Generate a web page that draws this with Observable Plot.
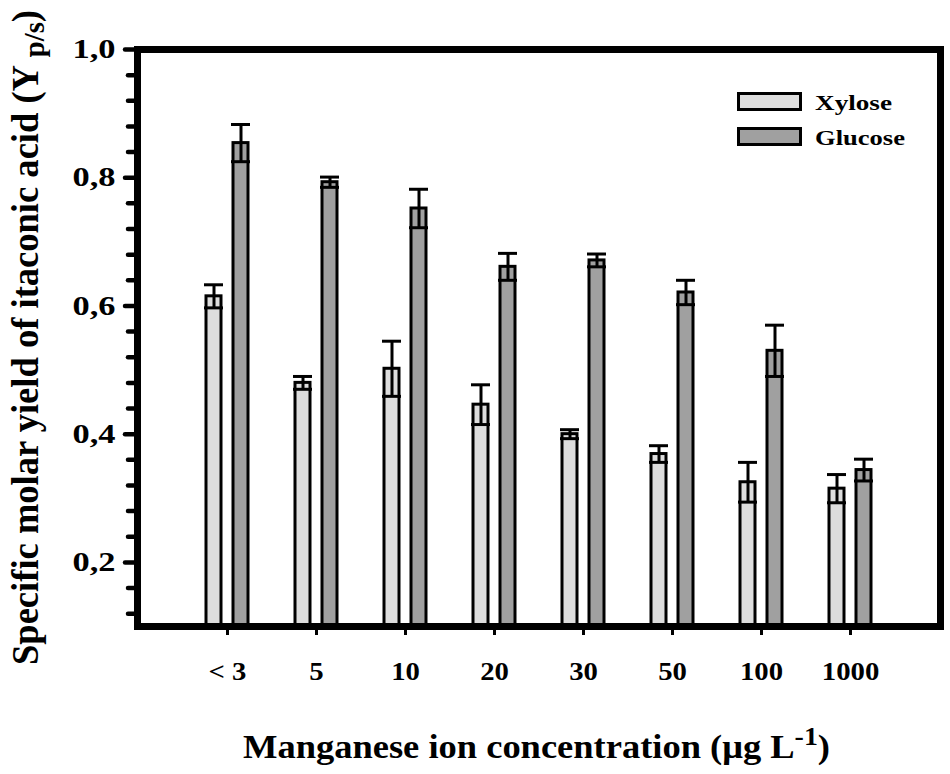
<!DOCTYPE html>
<html><head><meta charset="utf-8">
<script src="https://cdn.jsdelivr.net/npm/d3@7"></script>
<script src="https://cdn.jsdelivr.net/npm/@observablehq/plot@0.6"></script>
<style>body{margin:0;background:#fff;} #chart{width:950px;height:774px;}</style>
</head><body><div id="chart"></div>
<script>
const categories = ["< 3","5","10","20","30","50","100","1000"];
const xyloseValues = [0.615,0.48,0.502,0.446,0.40,0.369,0.325,0.315];
const xyloseErrors = [0.018,0.01,0.043,0.031,0.007,0.013,0.031,0.022];
const glucoseValues = [0.854,0.793,0.752,0.661,0.671,0.621,0.53,0.344];
const glucoseErrors = [0.029,0.008,0.03,0.021,0.01,0.019,0.04,0.017];
const seriesNames = ["Xylose","Glucose"];
const seriesColors = ["#dddddd","#a0a0a0"];
const yTicks = [0.2,0.4,0.6,0.8,1.0];
const yMinorTicks = [0.12,0.16,0.24,0.28,0.32,0.36,0.44,0.48,0.52,0.56,0.64,0.68,0.72,0.76,0.84,0.88,0.92,0.96];

const xy = categories.map((c,i)=>({cat:c, v:xyloseValues[i], e:xyloseErrors[i]}));
const gl = categories.map((c,i)=>({cat:c, v:glucoseValues[i], e:glucoseErrors[i]}));

function errMarks(data, side){
  const dx = side*13.5;
  const cap = side<0 ? {insetLeft:0, insetRight:27} : {insetLeft:27, insetRight:0};
  return [
    Plot.ruleX(data, {x:"cat", y1:d=>d.v-d.e, y2:d=>d.v+d.e, dx, stroke:"black", strokeWidth:3}),
    Plot.tickY(data, {x:"cat", y:d=>d.v+d.e, ...cap, stroke:"black", strokeWidth:3}),
    Plot.tickY(data, {x:"cat", y:d=>d.v-d.e, ...cap, stroke:"black", strokeWidth:3})
  ];
}

const FONT = "'Liberation Serif', 'Times New Roman', serif";

const plot = Plot.plot({
  width:950, height:774,
  marginLeft:137, marginRight:10, marginTop:49, marginBottom:148,
  style:{background:"white", color:"black"},
  x:{domain:categories, paddingInner:0.4855, paddingOuter:0.734, align:0.5, label:null},
  y:{domain:[0.1,1.0], label:null},
  marks:[
    Plot.barY(xy, {x:"cat", y:"v", fill:seriesColors[0], stroke:"black", strokeWidth:3, insetLeft:2, insetRight:29, clip:true}),
    Plot.barY(gl, {x:"cat", y:"v", fill:seriesColors[1], stroke:"black", strokeWidth:3, insetLeft:29, insetRight:2, clip:true}),
    ...errMarks(xy,-1), ...errMarks(gl,1),
    Plot.axisY(yMinorTicks, {tickSize:9, strokeWidth:4.5, strokeLinecap:"round", tickFormat:()=>"", label:null}),
    Plot.axisY(yTicks, {tickSize:12, strokeWidth:4.5, strokeLinecap:"round", tickPadding:10, tickFormat:d=>d.toFixed(1).replace(".",","), label:null}),
    Plot.axisX({tickSize:9, strokeWidth:3, tickPadding:27, label:null}),
    Plot.frame({stroke:"black", strokeWidth:7})
  ]
});
document.getElementById("chart").appendChild(plot);

const svg = d3.select(plot);
function styleText(el, size){
  el.style.fontFamily = FONT;
  el.style.fontWeight = "bold";
  el.style.fontSize = size + "px";
  el.style.fill = "black";
}
// style the tick labels made by Plot's axes
svg.selectAll("text").each(function(){
  if (!this.textContent) return;
  const owner = this.closest("[aria-label]");
  const label = owner ? owner.getAttribute("aria-label") : "";
  const isY = label.includes("y-axis") || categories.indexOf(this.textContent) < 0;
  if (isY) {
    styleText(this, 27);
    this.setAttribute("textLength", 43);
  } else {
    styleText(this, 25);
    const w = this.getComputedTextLength();
    this.setAttribute("textLength", (w*1.15).toFixed(1));
  }
  this.setAttribute("lengthAdjust","spacingAndGlyphs");
});

// y axis label
const yl = svg.append("text")
  .attr("transform","translate(38,665) rotate(-90)")
  .attr("text-anchor","start")
  .attr("textLength",655).attr("lengthAdjust","spacingAndGlyphs");
styleText(yl.node(), 37);
yl.append("tspan").text("Specific molar yield of itaconic acid (Y ");
yl.append("tspan").style("font-size","29px").attr("dy",6).text("p/s");
yl.append("tspan").attr("dy",-6).text(")");

// x axis label
const xl = svg.append("text")
  .attr("x",243).attr("y",758)
  .attr("text-anchor","start")
  .attr("textLength",587).attr("lengthAdjust","spacingAndGlyphs");
styleText(xl.node(), 34);
xl.append("tspan").text("Manganese ion concentration (\u03bcg L");
xl.append("tspan").style("font-size","26px").attr("dy",-13).text("-1");
xl.append("tspan").attr("dy",13).text(")");

// legend
const lg = svg.append("g");
seriesNames.forEach((name,i)=>{
  const y0 = 93.5 + i*35;
  lg.append("rect").attr("x",738.5).attr("y",y0).attr("width",62).attr("height",16)
    .attr("fill",seriesColors[i]).attr("stroke","black").attr("stroke-width",3);
  const t = lg.append("text").attr("x",815).attr("y",y0+16.5).attr("text-anchor","start")
    .attr("textLength", i===0?77:90).attr("lengthAdjust","spacingAndGlyphs").text(name);
  styleText(t.node(), 21);
});
</script>
</body></html>
